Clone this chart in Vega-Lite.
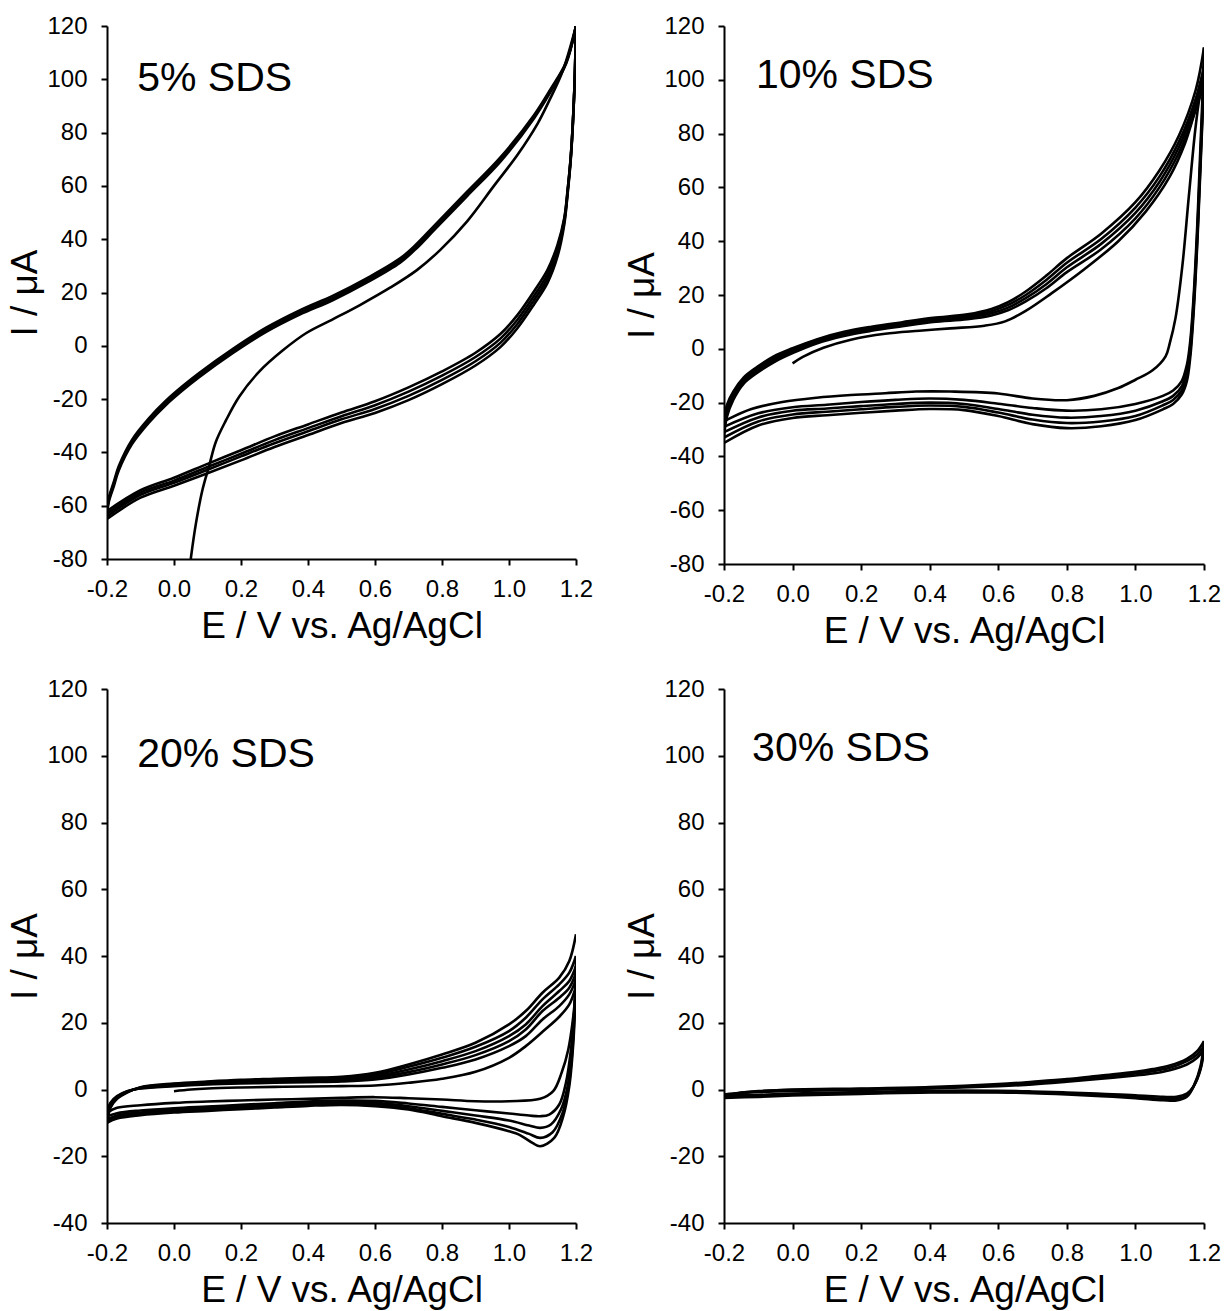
{
"$schema": "https://vega.github.io/schema/vega-lite/v6.json",
"padding": {"left": 6, "top": 14, "right": 5, "bottom": 5},
"background": "white",
"config": {
 "view": {"stroke": null},
 "font": "Liberation Sans",
 "axis": {"grid": false, "domainColor": "black", "domainWidth": 2, "tickColor": "black", "tickWidth": 2, "tickSize": 6, "labelColor": "black", "labelFont": "Liberation Sans", "labelFontSize": 24, "titleFont": "Liberation Sans", "titleFontSize": 37, "titleFontWeight": "normal", "titleColor": "black", "labelFlush": false, "labelOverlap": false, "labelBound": false},
 "axisX": {"labelPadding": 12, "titlePadding": 7},
 "axisY": {"labelPadding": 14, "titlePadding": 2}
},
"datasets": {
"p1": [
{"s":"i","E":0.05,"I":-80},{"s":"i","E":0.065,"I":-67},{"s":"i","E":0.085,"I":-54},{"s":"i","E":0.105,"I":-45},{"s":"i","E":0.125,"I":-36},{"s":"i","E":0.155,"I":-28},{"s":"i","E":0.195,"I":-19},{"s":"i","E":0.255,"I":-9.6},{"s":"i","E":0.325,"I":-1.7},{"s":"i","E":0.395,"I":4.8},{"s":"i","E":0.475,"I":10},{"s":"i","E":0.555,"I":15.3},{"s":"i","E":0.645,"I":21.8},{"s":"i","E":0.725,"I":28.4},{"s":"i","E":0.795,"I":36},{"s":"i","E":0.875,"I":46.7},{"s":"i","E":0.955,"I":60},{"s":"i","E":1.025,"I":71.6},{"s":"i","E":1.085,"I":83.3},{"s":"i","E":1.12,"I":92},{"s":"i","E":1.16,"I":103},{"s":"i","E":1.2,"I":120},
{"s":"L1","E":1.2,"I":120},{"s":"L1","E":1.195,"I":96},{"s":"L1","E":1.185,"I":72},{"s":"L1","E":1.175,"I":58.5},{"s":"L1","E":1.165,"I":48},{"s":"L1","E":1.145,"I":38},{"s":"L1","E":1.115,"I":28.5},{"s":"L1","E":1.075,"I":20.5},{"s":"L1","E":1.025,"I":11.5},{"s":"L1","E":0.975,"I":4.5},{"s":"L1","E":0.9,"I":-2.6},{"s":"L1","E":0.8,"I":-9.6},{"s":"L1","E":0.7,"I":-15.6},{"s":"L1","E":0.6,"I":-20.8},{"s":"L1","E":0.5,"I":-25},{"s":"L1","E":0.4,"I":-29.5},{"s":"L1","E":0.3,"I":-34},{"s":"L1","E":0.2,"I":-39.2},{"s":"L1","E":0.1,"I":-44.3},{"s":"L1","E":0.0,"I":-49.5},{"s":"L1","E":-0.1,"I":-54.2},{"s":"L1","E":-0.2,"I":-62},
{"s":"L2","E":1.2,"I":120},{"s":"L2","E":1.195,"I":96},{"s":"L2","E":1.185,"I":72},{"s":"L2","E":1.175,"I":58.2},{"s":"L2","E":1.165,"I":47.4},{"s":"L2","E":1.145,"I":36.8},{"s":"L2","E":1.115,"I":26.8},{"s":"L2","E":1.075,"I":18.8},{"s":"L2","E":1.025,"I":9.8},{"s":"L2","E":0.975,"I":2.8},{"s":"L2","E":0.9,"I":-4.2},{"s":"L2","E":0.8,"I":-11.2},{"s":"L2","E":0.7,"I":-17.2},{"s":"L2","E":0.6,"I":-22.3},{"s":"L2","E":0.5,"I":-26.4},{"s":"L2","E":0.4,"I":-30.9},{"s":"L2","E":0.3,"I":-35.4},{"s":"L2","E":0.2,"I":-40.5},{"s":"L2","E":0.1,"I":-45.5},{"s":"L2","E":0.0,"I":-50.6},{"s":"L2","E":-0.1,"I":-55.1},{"s":"L2","E":-0.2,"I":-63},
{"s":"L3","E":1.2,"I":120},{"s":"L3","E":1.195,"I":96},{"s":"L3","E":1.185,"I":71.5},{"s":"L3","E":1.175,"I":57.6},{"s":"L3","E":1.165,"I":46.5},{"s":"L3","E":1.145,"I":35.2},{"s":"L3","E":1.115,"I":25.2},{"s":"L3","E":1.075,"I":17.2},{"s":"L3","E":1.025,"I":8.2},{"s":"L3","E":0.975,"I":1.2},{"s":"L3","E":0.9,"I":-5.8},{"s":"L3","E":0.8,"I":-12.8},{"s":"L3","E":0.7,"I":-18.8},{"s":"L3","E":0.6,"I":-23.7},{"s":"L3","E":0.5,"I":-27.6},{"s":"L3","E":0.4,"I":-32.1},{"s":"L3","E":0.3,"I":-36.6},{"s":"L3","E":0.2,"I":-41.5},{"s":"L3","E":0.1,"I":-46.5},{"s":"L3","E":0.0,"I":-51.4},{"s":"L3","E":-0.1,"I":-55.9},{"s":"L3","E":-0.2,"I":-64},
{"s":"L4","E":1.2,"I":120},{"s":"L4","E":1.195,"I":95.5},{"s":"L4","E":1.185,"I":71},{"s":"L4","E":1.175,"I":57},{"s":"L4","E":1.165,"I":45.5},{"s":"L4","E":1.145,"I":33.6},{"s":"L4","E":1.115,"I":23.6},{"s":"L4","E":1.075,"I":15.6},{"s":"L4","E":1.025,"I":6.6},{"s":"L4","E":0.975,"I":-0.4},{"s":"L4","E":0.9,"I":-7.4},{"s":"L4","E":0.8,"I":-14.4},{"s":"L4","E":0.7,"I":-20.4},{"s":"L4","E":0.6,"I":-25.2},{"s":"L4","E":0.5,"I":-29},{"s":"L4","E":0.4,"I":-33.5},{"s":"L4","E":0.3,"I":-38},{"s":"L4","E":0.2,"I":-43},{"s":"L4","E":0.1,"I":-47.8},{"s":"L4","E":0.0,"I":-52.5},{"s":"L4","E":-0.1,"I":-57},{"s":"L4","E":-0.2,"I":-65},
{"s":"U1","E":-0.2,"I":-62},{"s":"U1","E":-0.195,"I":-57.2},{"s":"U1","E":-0.18,"I":-51.2},{"s":"U1","E":-0.165,"I":-45.2},{"s":"U1","E":-0.125,"I":-35.2},{"s":"U1","E":-0.075,"I":-27.2},{"s":"U1","E":-0.025,"I":-20.7},{"s":"U1","E":0.025,"I":-15.2},{"s":"U1","E":0.075,"I":-10.2},{"s":"U1","E":0.175,"I":-1.2},{"s":"U1","E":0.275,"I":6.8},{"s":"U1","E":0.375,"I":13.3},{"s":"U1","E":0.475,"I":18.8},{"s":"U1","E":0.575,"I":25.3},{"s":"U1","E":0.675,"I":32.8},{"s":"U1","E":0.725,"I":38.3},{"s":"U1","E":0.775,"I":44.8},{"s":"U1","E":0.875,"I":57.8},{"s":"U1","E":0.975,"I":70.8},{"s":"U1","E":1.075,"I":86.6},{"s":"U1","E":1.125,"I":96.5},{"s":"U1","E":1.17,"I":106.3},{"s":"U1","E":1.2,"I":120},
{"s":"U2","E":-0.2,"I":-63},{"s":"U2","E":-0.195,"I":-58},{"s":"U2","E":-0.18,"I":-52},{"s":"U2","E":-0.165,"I":-46},{"s":"U2","E":-0.125,"I":-36},{"s":"U2","E":-0.075,"I":-28},{"s":"U2","E":-0.025,"I":-21.5},{"s":"U2","E":0.025,"I":-16},{"s":"U2","E":0.075,"I":-11},{"s":"U2","E":0.175,"I":-2},{"s":"U2","E":0.275,"I":6},{"s":"U2","E":0.375,"I":12.5},{"s":"U2","E":0.475,"I":18},{"s":"U2","E":0.575,"I":24.5},{"s":"U2","E":0.675,"I":32},{"s":"U2","E":0.725,"I":37.5},{"s":"U2","E":0.775,"I":44},{"s":"U2","E":0.875,"I":57},{"s":"U2","E":0.975,"I":70},{"s":"U2","E":1.075,"I":86},{"s":"U2","E":1.125,"I":96},{"s":"U2","E":1.17,"I":106},{"s":"U2","E":1.2,"I":120},
{"s":"U3","E":-0.2,"I":-64},{"s":"U3","E":-0.195,"I":-58.8},{"s":"U3","E":-0.18,"I":-52.8},{"s":"U3","E":-0.165,"I":-46.8},{"s":"U3","E":-0.125,"I":-36.8},{"s":"U3","E":-0.075,"I":-28.8},{"s":"U3","E":-0.025,"I":-22.3},{"s":"U3","E":0.025,"I":-16.8},{"s":"U3","E":0.075,"I":-11.8},{"s":"U3","E":0.175,"I":-2.8},{"s":"U3","E":0.275,"I":5.2},{"s":"U3","E":0.375,"I":11.7},{"s":"U3","E":0.475,"I":17.2},{"s":"U3","E":0.575,"I":23.7},{"s":"U3","E":0.675,"I":31.2},{"s":"U3","E":0.725,"I":36.7},{"s":"U3","E":0.775,"I":43.2},{"s":"U3","E":0.875,"I":56.2},{"s":"U3","E":0.975,"I":69.2},{"s":"U3","E":1.075,"I":85.4},{"s":"U3","E":1.125,"I":95.5},{"s":"U3","E":1.17,"I":105.7},{"s":"U3","E":1.2,"I":120}
],
"p2": [
{"s":"i","E":0.0,"I":-5.4},{"s":"i","E":0.03,"I":-3},{"s":"i","E":0.09,"I":0.4},{"s":"i","E":0.17,"I":3.4},{"s":"i","E":0.27,"I":5.6},{"s":"i","E":0.37,"I":6.7},{"s":"i","E":0.46,"I":7.6},{"s":"i","E":0.56,"I":8.6},{"s":"i","E":0.62,"I":10.2},{"s":"i","E":0.68,"I":14.1},{"s":"i","E":0.755,"I":20.6},{"s":"i","E":0.85,"I":29.5},{"s":"i","E":0.95,"I":40},{"s":"i","E":1.03,"I":51},{"s":"i","E":1.1,"I":64},{"s":"i","E":1.145,"I":76.5},{"s":"i","E":1.185,"I":93},{"s":"i","E":1.2,"I":98},
{"s":"L1","E":1.2,"I":98},{"s":"L1","E":1.19,"I":95},{"s":"L1","E":1.176,"I":83},{"s":"L1","E":1.156,"I":57},{"s":"L1","E":1.137,"I":31},{"s":"L1","E":1.117,"I":11.5},{"s":"L1","E":1.1,"I":2},{"s":"L1","E":1.088,"I":-2.8},{"s":"L1","E":1.05,"I":-8},{"s":"L1","E":1.0,"I":-11.5},{"s":"L1","E":0.95,"I":-14.6},{"s":"L1","E":0.88,"I":-17.5},{"s":"L1","E":0.8,"I":-19.1},{"s":"L1","E":0.7,"I":-18.5},{"s":"L1","E":0.6,"I":-16.6},{"s":"L1","E":0.46,"I":-15.9},{"s":"L1","E":0.36,"I":-15.9},{"s":"L1","E":0.27,"I":-16.5},{"s":"L1","E":0.17,"I":-17.2},{"s":"L1","E":0.07,"I":-18.2},{"s":"L1","E":-0.03,"I":-19.8},{"s":"L1","E":-0.12,"I":-22.4},{"s":"L1","E":-0.19,"I":-26.3},{"s":"L1","E":-0.2,"I":-27},
{"s":"U1","E":-0.2,"I":-27},{"s":"U1","E":-0.192,"I":-21},{"s":"U1","E":-0.173,"I":-15.9},{"s":"U1","E":-0.143,"I":-10.7},{"s":"U1","E":-0.104,"I":-6.8},{"s":"U1","E":-0.055,"I":-2.8},{"s":"U1","E":0.0,"I":0.2},{"s":"U1","E":0.07,"I":3.5},{"s":"U1","E":0.15,"I":6.3},{"s":"U1","E":0.23,"I":8.2},{"s":"U1","E":0.32,"I":9.9},{"s":"U1","E":0.41,"I":11.5},{"s":"U1","E":0.51,"I":12.8},{"s":"U1","E":0.58,"I":14.8},{"s":"U1","E":0.63,"I":17.4},{"s":"U1","E":0.68,"I":21.3},{"s":"U1","E":0.74,"I":27.2},{"s":"U1","E":0.8,"I":33.7},{"s":"U1","E":0.9,"I":42.8},{"s":"U1","E":1.0,"I":54.5},{"s":"U1","E":1.07,"I":66.3},{"s":"U1","E":1.127,"I":79.3},{"s":"U1","E":1.176,"I":96.3},{"s":"U1","E":1.2,"I":112},
{"s":"L2","E":1.2,"I":112},{"s":"L2","E":1.195,"I":92},{"s":"L2","E":1.188,"I":70},{"s":"L2","E":1.18,"I":45},{"s":"L2","E":1.17,"I":20},{"s":"L2","E":1.16,"I":3},{"s":"L2","E":1.15,"I":-6},{"s":"L2","E":1.135,"I":-12},{"s":"L2","E":1.11,"I":-15.5},{"s":"L2","E":1.08,"I":-17.5},{"s":"L2","E":1.0,"I":-20.5},{"s":"L2","E":0.9,"I":-22.5},{"s":"L2","E":0.8,"I":-23},{"s":"L2","E":0.7,"I":-22},{"s":"L2","E":0.6,"I":-20.4},{"s":"L2","E":0.5,"I":-19},{"s":"L2","E":0.4,"I":-18.5},{"s":"L2","E":0.3,"I":-19},{"s":"L2","E":0.2,"I":-19.8},{"s":"L2","E":0.1,"I":-20.8},{"s":"L2","E":0.0,"I":-21.7},{"s":"L2","E":-0.1,"I":-24},{"s":"L2","E":-0.2,"I":-29},
{"s":"U2","E":-0.2,"I":-29},{"s":"U2","E":-0.192,"I":-22.5},{"s":"U2","E":-0.173,"I":-17},{"s":"U2","E":-0.143,"I":-11.5},{"s":"U2","E":-0.104,"I":-7.5},{"s":"U2","E":-0.055,"I":-3.5},{"s":"U2","E":0.0,"I":-0.4},{"s":"U2","E":0.07,"I":3},{"s":"U2","E":0.15,"I":5.8},{"s":"U2","E":0.23,"I":7.7},{"s":"U2","E":0.32,"I":9.4},{"s":"U2","E":0.41,"I":11},{"s":"U2","E":0.51,"I":12.2},{"s":"U2","E":0.58,"I":14},{"s":"U2","E":0.63,"I":16.4},{"s":"U2","E":0.68,"I":20},{"s":"U2","E":0.74,"I":25.6},{"s":"U2","E":0.8,"I":32},{"s":"U2","E":0.9,"I":40.8},{"s":"U2","E":1.0,"I":52.5},{"s":"U2","E":1.07,"I":64},{"s":"U2","E":1.127,"I":77},{"s":"U2","E":1.176,"I":93},{"s":"U2","E":1.2,"I":105},
{"s":"L3","E":1.2,"I":105},{"s":"L3","E":1.195,"I":88},{"s":"L3","E":1.188,"I":66},{"s":"L3","E":1.18,"I":42},{"s":"L3","E":1.17,"I":18},{"s":"L3","E":1.16,"I":1},{"s":"L3","E":1.15,"I":-8},{"s":"L3","E":1.135,"I":-14},{"s":"L3","E":1.11,"I":-17.5},{"s":"L3","E":1.08,"I":-19.5},{"s":"L3","E":1.0,"I":-23},{"s":"L3","E":0.9,"I":-25},{"s":"L3","E":0.8,"I":-25.6},{"s":"L3","E":0.7,"I":-24.5},{"s":"L3","E":0.6,"I":-22.4},{"s":"L3","E":0.5,"I":-20.5},{"s":"L3","E":0.4,"I":-20},{"s":"L3","E":0.3,"I":-20.5},{"s":"L3","E":0.2,"I":-21.3},{"s":"L3","E":0.1,"I":-22.2},{"s":"L3","E":0.0,"I":-23},{"s":"L3","E":-0.1,"I":-25.5},{"s":"L3","E":-0.2,"I":-31},
{"s":"U3","E":-0.2,"I":-31},{"s":"U3","E":-0.192,"I":-24},{"s":"U3","E":-0.173,"I":-18},{"s":"U3","E":-0.143,"I":-12.3},{"s":"U3","E":-0.104,"I":-8.2},{"s":"U3","E":-0.055,"I":-4.2},{"s":"U3","E":0.0,"I":-1},{"s":"U3","E":0.07,"I":2.5},{"s":"U3","E":0.15,"I":5.3},{"s":"U3","E":0.23,"I":7.2},{"s":"U3","E":0.32,"I":8.9},{"s":"U3","E":0.41,"I":10.5},{"s":"U3","E":0.51,"I":11.6},{"s":"U3","E":0.58,"I":13.2},{"s":"U3","E":0.63,"I":15.4},{"s":"U3","E":0.68,"I":18.8},{"s":"U3","E":0.74,"I":24},{"s":"U3","E":0.8,"I":30.3},{"s":"U3","E":0.9,"I":39},{"s":"U3","E":1.0,"I":50.5},{"s":"U3","E":1.07,"I":62},{"s":"U3","E":1.127,"I":75},{"s":"U3","E":1.176,"I":91},{"s":"U3","E":1.2,"I":102},
{"s":"L4","E":1.2,"I":102},{"s":"L4","E":1.195,"I":86},{"s":"L4","E":1.188,"I":64},{"s":"L4","E":1.18,"I":40},{"s":"L4","E":1.17,"I":16},{"s":"L4","E":1.16,"I":-1},{"s":"L4","E":1.15,"I":-10},{"s":"L4","E":1.135,"I":-15.5},{"s":"L4","E":1.11,"I":-19},{"s":"L4","E":1.08,"I":-21},{"s":"L4","E":1.0,"I":-25},{"s":"L4","E":0.9,"I":-27},{"s":"L4","E":0.8,"I":-27.6},{"s":"L4","E":0.7,"I":-26.3},{"s":"L4","E":0.6,"I":-23.7},{"s":"L4","E":0.5,"I":-21.6},{"s":"L4","E":0.4,"I":-21.1},{"s":"L4","E":0.3,"I":-21.6},{"s":"L4","E":0.2,"I":-22.5},{"s":"L4","E":0.1,"I":-23.4},{"s":"L4","E":0.0,"I":-24.4},{"s":"L4","E":-0.1,"I":-27},{"s":"L4","E":-0.2,"I":-33},
{"s":"U4","E":-0.2,"I":-33},{"s":"U4","E":-0.192,"I":-25.5},{"s":"U4","E":-0.173,"I":-19},{"s":"U4","E":-0.143,"I":-13},{"s":"U4","E":-0.104,"I":-9},{"s":"U4","E":-0.055,"I":-5},{"s":"U4","E":0.0,"I":-1.6},{"s":"U4","E":0.07,"I":2},{"s":"U4","E":0.15,"I":4.8},{"s":"U4","E":0.23,"I":6.7},{"s":"U4","E":0.32,"I":8.4},{"s":"U4","E":0.41,"I":10},{"s":"U4","E":0.51,"I":11},{"s":"U4","E":0.58,"I":12.4},{"s":"U4","E":0.63,"I":14.4},{"s":"U4","E":0.68,"I":17.6},{"s":"U4","E":0.74,"I":22.5},{"s":"U4","E":0.8,"I":28.5},{"s":"U4","E":0.9,"I":37},{"s":"U4","E":1.0,"I":48.5},{"s":"U4","E":1.07,"I":60},{"s":"U4","E":1.127,"I":73},{"s":"U4","E":1.176,"I":89},{"s":"U4","E":1.2,"I":100},
{"s":"L5","E":1.2,"I":100},{"s":"L5","E":1.195,"I":84},{"s":"L5","E":1.188,"I":62},{"s":"L5","E":1.18,"I":38},{"s":"L5","E":1.17,"I":14},{"s":"L5","E":1.16,"I":-3},{"s":"L5","E":1.15,"I":-12},{"s":"L5","E":1.135,"I":-17},{"s":"L5","E":1.11,"I":-20.5},{"s":"L5","E":1.08,"I":-22.5},{"s":"L5","E":1.0,"I":-26.5},{"s":"L5","E":0.9,"I":-28.8},{"s":"L5","E":0.8,"I":-29.5},{"s":"L5","E":0.7,"I":-28},{"s":"L5","E":0.6,"I":-25},{"s":"L5","E":0.5,"I":-22.8},{"s":"L5","E":0.4,"I":-22.4},{"s":"L5","E":0.3,"I":-23},{"s":"L5","E":0.2,"I":-23.8},{"s":"L5","E":0.1,"I":-24.7},{"s":"L5","E":0.0,"I":-25.7},{"s":"L5","E":-0.1,"I":-28.5},{"s":"L5","E":-0.2,"I":-35}
],
"p3": [
{"s":"i","E":0.0,"I":-0.5},{"s":"i","E":0.05,"I":0},{"s":"i","E":0.1,"I":0.3},{"s":"i","E":0.2,"I":0.6},{"s":"i","E":0.3,"I":0.8},{"s":"i","E":0.4,"I":0.9},{"s":"i","E":0.5,"I":1},{"s":"i","E":0.6,"I":1.2},{"s":"i","E":0.7,"I":2},{"s":"i","E":0.8,"I":3.2},{"s":"i","E":0.9,"I":5.3},{"s":"i","E":1.0,"I":9.5},{"s":"i","E":1.05,"I":13},{"s":"i","E":1.1,"I":17.3},{"s":"i","E":1.15,"I":21.8},{"s":"i","E":1.18,"I":25.5},{"s":"i","E":1.2,"I":31},
{"s":"L1","E":1.2,"I":31},{"s":"L1","E":1.192,"I":22},{"s":"L1","E":1.177,"I":12},{"s":"L1","E":1.157,"I":5},{"s":"L1","E":1.132,"I":-0.5},{"s":"L1","E":1.093,"I":-2.8},{"s":"L1","E":1.0,"I":-3.5},{"s":"L1","E":0.9,"I":-3.5},{"s":"L1","E":0.8,"I":-3},{"s":"L1","E":0.7,"I":-2.6},{"s":"L1","E":0.6,"I":-2.3},{"s":"L1","E":0.5,"I":-2.5},{"s":"L1","E":0.4,"I":-2.8},{"s":"L1","E":0.3,"I":-3},{"s":"L1","E":0.2,"I":-3.3},{"s":"L1","E":0.1,"I":-3.6},{"s":"L1","E":0.0,"I":-4},{"s":"L1","E":-0.1,"I":-4.7},{"s":"L1","E":-0.17,"I":-5.5},{"s":"L1","E":-0.2,"I":-7},
{"s":"U1","E":-0.2,"I":-7},{"s":"U1","E":-0.19,"I":-4},{"s":"U1","E":-0.17,"I":-2},{"s":"U1","E":-0.14,"I":-0.5},{"s":"U1","E":-0.1,"I":0.3},{"s":"U1","E":0.0,"I":1},{"s":"U1","E":0.1,"I":1.5},{"s":"U1","E":0.2,"I":1.8},{"s":"U1","E":0.3,"I":2},{"s":"U1","E":0.4,"I":2.2},{"s":"U1","E":0.5,"I":2.4},{"s":"U1","E":0.6,"I":3},{"s":"U1","E":0.7,"I":4.5},{"s":"U1","E":0.8,"I":6.5},{"s":"U1","E":0.9,"I":9},{"s":"U1","E":1.0,"I":13},{"s":"U1","E":1.05,"I":16},{"s":"U1","E":1.1,"I":21},{"s":"U1","E":1.15,"I":25},{"s":"U1","E":1.18,"I":28.5},{"s":"U1","E":1.2,"I":33},
{"s":"L2","E":1.2,"I":33},{"s":"L2","E":1.195,"I":24},{"s":"L2","E":1.185,"I":12},{"s":"L2","E":1.17,"I":2},{"s":"L2","E":1.15,"I":-4.5},{"s":"L2","E":1.12,"I":-7.5},{"s":"L2","E":1.093,"I":-8},{"s":"L2","E":1.06,"I":-7.8},{"s":"L2","E":1.0,"I":-7.2},{"s":"L2","E":0.9,"I":-6.2},{"s":"L2","E":0.8,"I":-5.2},{"s":"L2","E":0.7,"I":-4.2},{"s":"L2","E":0.6,"I":-3.4},{"s":"L2","E":0.5,"I":-3.3},{"s":"L2","E":0.4,"I":-3.6},{"s":"L2","E":0.3,"I":-4.1},{"s":"L2","E":0.2,"I":-4.6},{"s":"L2","E":0.1,"I":-5.1},{"s":"L2","E":0.0,"I":-5.6},{"s":"L2","E":-0.1,"I":-6.3},{"s":"L2","E":-0.17,"I":-7.1},{"s":"L2","E":-0.2,"I":-8},
{"s":"U2","E":-0.2,"I":-8},{"s":"U2","E":-0.19,"I":-4.5},{"s":"U2","E":-0.17,"I":-2.2},{"s":"U2","E":-0.14,"I":-0.6},{"s":"U2","E":-0.1,"I":0.4},{"s":"U2","E":0.0,"I":1.2},{"s":"U2","E":0.1,"I":1.8},{"s":"U2","E":0.2,"I":2.2},{"s":"U2","E":0.3,"I":2.5},{"s":"U2","E":0.4,"I":2.7},{"s":"U2","E":0.5,"I":2.9},{"s":"U2","E":0.6,"I":3.5},{"s":"U2","E":0.7,"I":5.2},{"s":"U2","E":0.8,"I":7.5},{"s":"U2","E":0.9,"I":10.3},{"s":"U2","E":1.0,"I":14.5},{"s":"U2","E":1.05,"I":18},{"s":"U2","E":1.1,"I":23.5},{"s":"U2","E":1.15,"I":27.5},{"s":"U2","E":1.18,"I":30.5},{"s":"U2","E":1.2,"I":35},
{"s":"L3","E":1.2,"I":35},{"s":"L3","E":1.196,"I":25},{"s":"L3","E":1.188,"I":12},{"s":"L3","E":1.175,"I":1},{"s":"L3","E":1.155,"I":-6},{"s":"L3","E":1.125,"I":-10.5},{"s":"L3","E":1.093,"I":-11.5},{"s":"L3","E":1.06,"I":-10.8},{"s":"L3","E":1.0,"I":-9.3},{"s":"L3","E":0.9,"I":-7.8},{"s":"L3","E":0.8,"I":-6.4},{"s":"L3","E":0.7,"I":-5},{"s":"L3","E":0.6,"I":-4},{"s":"L3","E":0.5,"I":-3.8},{"s":"L3","E":0.4,"I":-4.1},{"s":"L3","E":0.3,"I":-4.6},{"s":"L3","E":0.2,"I":-5.1},{"s":"L3","E":0.1,"I":-5.6},{"s":"L3","E":0.0,"I":-6.1},{"s":"L3","E":-0.1,"I":-6.9},{"s":"L3","E":-0.17,"I":-7.8},{"s":"L3","E":-0.2,"I":-9},
{"s":"U3","E":-0.2,"I":-9},{"s":"U3","E":-0.19,"I":-5},{"s":"U3","E":-0.17,"I":-2.4},{"s":"U3","E":-0.14,"I":-0.7},{"s":"U3","E":-0.1,"I":0.5},{"s":"U3","E":0.0,"I":1.4},{"s":"U3","E":0.1,"I":2},{"s":"U3","E":0.2,"I":2.5},{"s":"U3","E":0.3,"I":2.8},{"s":"U3","E":0.4,"I":3},{"s":"U3","E":0.5,"I":3.3},{"s":"U3","E":0.6,"I":4},{"s":"U3","E":0.7,"I":6},{"s":"U3","E":0.8,"I":8.5},{"s":"U3","E":0.9,"I":11.5},{"s":"U3","E":1.0,"I":16},{"s":"U3","E":1.05,"I":19.5},{"s":"U3","E":1.1,"I":25},{"s":"U3","E":1.15,"I":29.5},{"s":"U3","E":1.18,"I":32.5},{"s":"U3","E":1.2,"I":37},
{"s":"L4","E":1.2,"I":37},{"s":"L4","E":1.197,"I":26},{"s":"L4","E":1.19,"I":13},{"s":"L4","E":1.178,"I":1},{"s":"L4","E":1.16,"I":-7},{"s":"L4","E":1.13,"I":-12.8},{"s":"L4","E":1.093,"I":-14.5},{"s":"L4","E":1.06,"I":-13.3},{"s":"L4","E":1.0,"I":-11.2},{"s":"L4","E":0.9,"I":-9},{"s":"L4","E":0.8,"I":-7.3},{"s":"L4","E":0.7,"I":-5.6},{"s":"L4","E":0.6,"I":-4.5},{"s":"L4","E":0.5,"I":-4.2},{"s":"L4","E":0.4,"I":-4.5},{"s":"L4","E":0.3,"I":-5},{"s":"L4","E":0.2,"I":-5.5},{"s":"L4","E":0.1,"I":-6},{"s":"L4","E":0.0,"I":-6.5},{"s":"L4","E":-0.1,"I":-7.3},{"s":"L4","E":-0.17,"I":-8.3},{"s":"L4","E":-0.2,"I":-9.5},
{"s":"U4","E":-0.2,"I":-9.5},{"s":"U4","E":-0.19,"I":-5.3},{"s":"U4","E":-0.17,"I":-2.6},{"s":"U4","E":-0.14,"I":-0.8},{"s":"U4","E":-0.1,"I":0.6},{"s":"U4","E":0.0,"I":1.6},{"s":"U4","E":0.1,"I":2.2},{"s":"U4","E":0.2,"I":2.7},{"s":"U4","E":0.3,"I":3},{"s":"U4","E":0.4,"I":3.3},{"s":"U4","E":0.5,"I":3.6},{"s":"U4","E":0.6,"I":4.5},{"s":"U4","E":0.7,"I":6.8},{"s":"U4","E":0.8,"I":9.5},{"s":"U4","E":0.9,"I":12.8},{"s":"U4","E":1.0,"I":17.5},{"s":"U4","E":1.05,"I":21.5},{"s":"U4","E":1.1,"I":27},{"s":"U4","E":1.15,"I":31.5},{"s":"U4","E":1.18,"I":35},{"s":"U4","E":1.2,"I":40},
{"s":"L5","E":1.2,"I":40},{"s":"L5","E":1.198,"I":28},{"s":"L5","E":1.192,"I":14},{"s":"L5","E":1.18,"I":1},{"s":"L5","E":1.162,"I":-8},{"s":"L5","E":1.135,"I":-14.5},{"s":"L5","E":1.093,"I":-17},{"s":"L5","E":1.07,"I":-16},{"s":"L5","E":1.03,"I":-13.5},{"s":"L5","E":1.0,"I":-12.5},{"s":"L5","E":0.9,"I":-10},{"s":"L5","E":0.8,"I":-8},{"s":"L5","E":0.7,"I":-6},{"s":"L5","E":0.6,"I":-5},{"s":"L5","E":0.5,"I":-4.6},{"s":"L5","E":0.4,"I":-4.9},{"s":"L5","E":0.3,"I":-5.4},{"s":"L5","E":0.2,"I":-5.9},{"s":"L5","E":0.1,"I":-6.4},{"s":"L5","E":0.0,"I":-6.9},{"s":"L5","E":-0.1,"I":-7.7},{"s":"L5","E":-0.17,"I":-8.7},{"s":"L5","E":-0.2,"I":-10},
{"s":"U5","E":-0.2,"I":-10},{"s":"U5","E":-0.19,"I":-5.5},{"s":"U5","E":-0.17,"I":-2.8},{"s":"U5","E":-0.14,"I":-0.9},{"s":"U5","E":-0.1,"I":0.7},{"s":"U5","E":0.0,"I":1.8},{"s":"U5","E":0.1,"I":2.4},{"s":"U5","E":0.2,"I":2.9},{"s":"U5","E":0.3,"I":3.2},{"s":"U5","E":0.4,"I":3.5},{"s":"U5","E":0.5,"I":3.8},{"s":"U5","E":0.6,"I":5},{"s":"U5","E":0.7,"I":7.5},{"s":"U5","E":0.8,"I":10.5},{"s":"U5","E":0.9,"I":14},{"s":"U5","E":1.0,"I":19.5},{"s":"U5","E":1.05,"I":23.5},{"s":"U5","E":1.1,"I":29},{"s":"U5","E":1.15,"I":33.5},{"s":"U5","E":1.18,"I":38.5},{"s":"U5","E":1.2,"I":46.5}
],
"p4": [
{"s":"U1","E":-0.2,"I":-1.5},{"s":"U1","E":-0.15,"I":-1},{"s":"U1","E":-0.1,"I":-0.7},{"s":"U1","E":0.0,"I":-0.4},{"s":"U1","E":0.2,"I":-0.1},{"s":"U1","E":0.4,"I":0.3},{"s":"U1","E":0.6,"I":1},{"s":"U1","E":0.7,"I":1.5},{"s":"U1","E":0.8,"I":2.3},{"s":"U1","E":0.9,"I":3.2},{"s":"U1","E":1.0,"I":4.2},{"s":"U1","E":1.05,"I":4.8},{"s":"U1","E":1.1,"I":5.8},{"s":"U1","E":1.15,"I":7.5},{"s":"U1","E":1.18,"I":9.5},{"s":"U1","E":1.2,"I":12},
{"s":"L1","E":1.2,"I":12},{"s":"L1","E":1.19,"I":6},{"s":"L1","E":1.17,"I":1},{"s":"L1","E":1.15,"I":-1.2},{"s":"L1","E":1.12,"I":-2.2},{"s":"L1","E":1.08,"I":-2.2},{"s":"L1","E":1.0,"I":-1.7},{"s":"L1","E":0.9,"I":-1.3},{"s":"L1","E":0.8,"I":-0.9},{"s":"L1","E":0.7,"I":-0.6},{"s":"L1","E":0.6,"I":-0.4},{"s":"L1","E":0.4,"I":-0.4},{"s":"L1","E":0.2,"I":-0.8},{"s":"L1","E":0.0,"I":-1.2},{"s":"L1","E":-0.1,"I":-1.6},{"s":"L1","E":-0.2,"I":-1.8},
{"s":"U2","E":-0.2,"I":-1.8},{"s":"U2","E":-0.15,"I":-1},{"s":"U2","E":-0.1,"I":-0.6},{"s":"U2","E":0.0,"I":-0.2},{"s":"U2","E":0.2,"I":0.1},{"s":"U2","E":0.4,"I":0.5},{"s":"U2","E":0.6,"I":1.3},{"s":"U2","E":0.7,"I":1.9},{"s":"U2","E":0.8,"I":2.7},{"s":"U2","E":0.9,"I":3.7},{"s":"U2","E":1.0,"I":4.8},{"s":"U2","E":1.05,"I":5.5},{"s":"U2","E":1.1,"I":6.5},{"s":"U2","E":1.15,"I":8.5},{"s":"U2","E":1.18,"I":10.5},{"s":"U2","E":1.2,"I":13},
{"s":"L2","E":1.2,"I":13},{"s":"L2","E":1.19,"I":6.5},{"s":"L2","E":1.17,"I":1},{"s":"L2","E":1.15,"I":-1.8},{"s":"L2","E":1.12,"I":-2.8},{"s":"L2","E":1.08,"I":-2.8},{"s":"L2","E":1.0,"I":-2.2},{"s":"L2","E":0.9,"I":-1.7},{"s":"L2","E":0.8,"I":-1.2},{"s":"L2","E":0.7,"I":-0.9},{"s":"L2","E":0.6,"I":-0.7},{"s":"L2","E":0.4,"I":-0.7},{"s":"L2","E":0.2,"I":-1.1},{"s":"L2","E":0.0,"I":-1.5},{"s":"L2","E":-0.1,"I":-1.9},{"s":"L2","E":-0.2,"I":-2},
{"s":"U3","E":-0.2,"I":-2},{"s":"U3","E":-0.15,"I":-1},{"s":"U3","E":-0.1,"I":-0.5},{"s":"U3","E":0.0,"I":0},{"s":"U3","E":0.2,"I":0.3},{"s":"U3","E":0.4,"I":0.7},{"s":"U3","E":0.6,"I":1.6},{"s":"U3","E":0.7,"I":2.3},{"s":"U3","E":0.8,"I":3.1},{"s":"U3","E":0.9,"I":4.2},{"s":"U3","E":1.0,"I":5.3},{"s":"U3","E":1.05,"I":6.1},{"s":"U3","E":1.1,"I":7.2},{"s":"U3","E":1.15,"I":9.2},{"s":"U3","E":1.18,"I":11.5},{"s":"U3","E":1.2,"I":14.5},
{"s":"L3","E":1.2,"I":14.5},{"s":"L3","E":1.19,"I":7},{"s":"L3","E":1.17,"I":1},{"s":"L3","E":1.15,"I":-2.2},{"s":"L3","E":1.12,"I":-3.3},{"s":"L3","E":1.08,"I":-3.2},{"s":"L3","E":1.0,"I":-2.6},{"s":"L3","E":0.9,"I":-2},{"s":"L3","E":0.8,"I":-1.5},{"s":"L3","E":0.7,"I":-1.1},{"s":"L3","E":0.6,"I":-0.9},{"s":"L3","E":0.4,"I":-0.9},{"s":"L3","E":0.2,"I":-1.3},{"s":"L3","E":0.0,"I":-1.8},{"s":"L3","E":-0.1,"I":-2.2},{"s":"L3","E":-0.2,"I":-2.5}
]
},
"concat": [
{"width": 469, "height": 533, "data": {"name": "p1"},
 "layer": [
  {"mark": {"type": "line", "color": "black", "strokeWidth": 2.6, "interpolate": "catmull-rom", "clip": true},
   "encoding": {
    "x": {"field": "E", "type": "quantitative", "scale": {"domain": [-0.2, 1.2], "nice": false, "zero": false}, "axis": {"title": "E / V vs. Ag/AgCl", "values": [-0.2,-0.1,0,0.1,0.2,0.3,0.4,0.5,0.6,0.7,0.8,0.9,1,1.1,1.2], "labelExpr": "abs(round(datum.value*10))%2==0 ? replace(format(datum.value,'.1f'),'\u2212','-') : ''"}},
    "y": {"field": "I", "type": "quantitative", "scale": {"domain": [-80, 120], "nice": false, "zero": false}, "axis": {"title": "I / μA", "values": [-80,-70,-60,-50,-40,-30,-20,-10,0,10,20,30,40,50,60,70,80,90,100,110,120], "labelExpr": "datum.value%20==0 ? ''+datum.value : ''"}},
    "detail": {"field": "s"},
    "order": {"value": null}}},
  {"data": {"values": [{}]}, "mark": {"type": "text", "align": "left", "baseline": "alphabetic", "fontSize": 41, "font": "Liberation Sans", "color": "black"},
   "encoding": {"x": {"datum": -0.11, "type": "quantitative"}, "y": {"datum": 95.7, "type": "quantitative"}, "text": {"value": "5% SDS"}}}
 ]},
{"width": 480, "height": 538, "data": {"name": "p2"},
 "layer": [
  {"mark": {"type": "line", "color": "black", "strokeWidth": 2.6, "interpolate": "catmull-rom", "clip": true},
   "encoding": {
    "x": {"field": "E", "type": "quantitative", "scale": {"domain": [-0.2, 1.2], "nice": false, "zero": false}, "axis": {"title": "E / V vs. Ag/AgCl", "values": [-0.2,-0.1,0,0.1,0.2,0.3,0.4,0.5,0.6,0.7,0.8,0.9,1,1.1,1.2], "labelExpr": "abs(round(datum.value*10))%2==0 ? replace(format(datum.value,'.1f'),'\u2212','-') : ''"}},
    "y": {"field": "I", "type": "quantitative", "scale": {"domain": [-80, 120], "nice": false, "zero": false}, "axis": {"title": "I / μA", "values": [-80,-70,-60,-50,-40,-30,-20,-10,0,10,20,30,40,50,60,70,80,90,100,110,120], "labelExpr": "datum.value%20==0 ? ''+datum.value : ''"}},
    "detail": {"field": "s"},
    "order": {"value": null}}},
  {"data": {"values": [{}]}, "mark": {"type": "text", "align": "left", "baseline": "alphabetic", "fontSize": 41, "font": "Liberation Sans", "color": "black"},
   "encoding": {"x": {"datum": -0.107, "type": "quantitative"}, "y": {"datum": 97, "type": "quantitative"}, "text": {"value": "10% SDS"}}}
 ]},
{"width": 469, "height": 534, "data": {"name": "p3"},
 "layer": [
  {"mark": {"type": "line", "color": "black", "strokeWidth": 2.6, "interpolate": "catmull-rom", "clip": true},
   "encoding": {
    "x": {"field": "E", "type": "quantitative", "scale": {"domain": [-0.2, 1.2], "nice": false, "zero": false}, "axis": {"title": "E / V vs. Ag/AgCl", "values": [-0.2,-0.1,0,0.1,0.2,0.3,0.4,0.5,0.6,0.7,0.8,0.9,1,1.1,1.2], "labelExpr": "abs(round(datum.value*10))%2==0 ? replace(format(datum.value,'.1f'),'\u2212','-') : ''"}},
    "y": {"field": "I", "type": "quantitative", "scale": {"domain": [-40, 120], "nice": false, "zero": false}, "axis": {"title": "I / μA", "values": [-40,-30,-20,-10,0,10,20,30,40,50,60,70,80,90,100,110,120], "labelExpr": "datum.value%20==0 ? ''+datum.value : ''"}},
    "detail": {"field": "s"},
    "order": {"value": null}}},
  {"data": {"values": [{}]}, "mark": {"type": "text", "align": "left", "baseline": "alphabetic", "fontSize": 41, "font": "Liberation Sans", "color": "black"},
   "encoding": {"x": {"datum": -0.11, "type": "quantitative"}, "y": {"datum": 96.6, "type": "quantitative"}, "text": {"value": "20% SDS"}}}
 ]},
{"width": 480, "height": 534, "data": {"name": "p4"},
 "layer": [
  {"mark": {"type": "line", "color": "black", "strokeWidth": 2.6, "interpolate": "catmull-rom", "clip": true},
   "encoding": {
    "x": {"field": "E", "type": "quantitative", "scale": {"domain": [-0.2, 1.2], "nice": false, "zero": false}, "axis": {"title": "E / V vs. Ag/AgCl", "values": [-0.2,-0.1,0,0.1,0.2,0.3,0.4,0.5,0.6,0.7,0.8,0.9,1,1.1,1.2], "labelExpr": "abs(round(datum.value*10))%2==0 ? replace(format(datum.value,'.1f'),'\u2212','-') : ''"}},
    "y": {"field": "I", "type": "quantitative", "scale": {"domain": [-40, 120], "nice": false, "zero": false}, "axis": {"title": "I / μA", "values": [-40,-30,-20,-10,0,10,20,30,40,50,60,70,80,90,100,110,120], "labelExpr": "datum.value%20==0 ? ''+datum.value : ''"}},
    "detail": {"field": "s"},
    "order": {"value": null}}},
  {"data": {"values": [{}]}, "mark": {"type": "text", "align": "left", "baseline": "alphabetic", "fontSize": 41, "font": "Liberation Sans", "color": "black"},
   "encoding": {"x": {"datum": -0.118, "type": "quantitative"}, "y": {"datum": 98.4, "type": "quantitative"}, "text": {"value": "30% SDS"}}}
 ]}
],
"columns": 2,
"spacing": {"row": 125, "column": 148},
"bounds": "flush"
}
